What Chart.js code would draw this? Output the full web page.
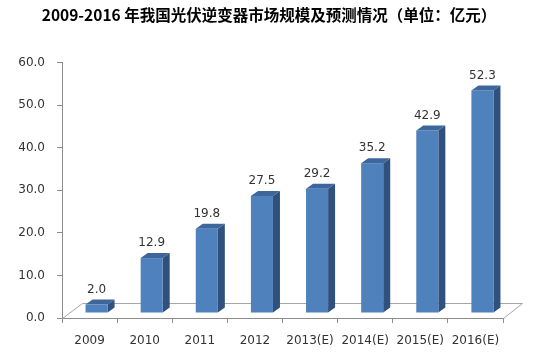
<!DOCTYPE html>
<html>
<head>
<meta charset="utf-8">
<script src="https://cdn.jsdelivr.net/npm/chart.js@4/dist/chart.umd.min.js"></script>
<style>
  html, body { margin: 0; padding: 0; background: #fff; }
</style>
</head>
<body>
<canvas id="chart" width="538" height="360"></canvas>
<script>
const years = ['2009', '2010', '2011', '2012', '2013(E)', '2014(E)', '2015(E)', '2016(E)'];
const marketSize = [2.0, 12.9, 19.8, 27.5, 29.2, 35.2, 42.9, 52.3];
const yTicks = [0, 10, 20, 30, 40, 50, 60];

const FRONT = '#4f81bd', SIDE = '#30517d', TOP = '#3d669a';
const labelFont = '12px "DejaVu Sans"';

// fake 3D: floor + boxes drawn from the bar elements' positions
const bar3d = {
  id: 'bar3d',
  beforeDatasetsDraw(chart) {
    const { ctx, chartArea: a } = chart;
    ctx.save();
    ctx.strokeStyle = '#a6a6a6';
    ctx.lineWidth = 1;
    ctx.beginPath();
    ctx.moveTo(a.left + 0.5, a.bottom + 0.5);
    ctx.lineTo(a.left + 20.5, a.bottom - 14.5);
    ctx.lineTo(a.right + 19.5, a.bottom - 14.5);
    ctx.lineTo(a.right + 0.5, a.bottom + 0.5);
    ctx.stroke();
    ctx.restore();
  },
  afterDatasetsDraw(chart) {
    const ctx = chart.ctx;
    const meta = chart.getDatasetMeta(0);
    const ox = 7, oy = -5, dx = 7, dy = -5;
    ctx.save();
    meta.data.forEach((bar, i) => {
      const { x, y, base, width } = bar.getProps(['x', 'y', 'base', 'width'], true);
      const l = x - width / 2 + ox, r = x + width / 2 + ox;
      const t = y + oy, b = base + oy;

      ctx.fillStyle = SIDE;
      ctx.beginPath();
      ctx.moveTo(r, b); ctx.lineTo(r + dx, b + dy); ctx.lineTo(r + dx, t + dy); ctx.lineTo(r, t);
      ctx.closePath(); ctx.fill();

      ctx.fillStyle = TOP;
      ctx.beginPath();
      ctx.moveTo(l, t); ctx.lineTo(l + dx, t + dy); ctx.lineTo(r + dx, t + dy); ctx.lineTo(r, t);
      ctx.closePath(); ctx.fill();

      ctx.fillStyle = FRONT;
      ctx.fillRect(l, t, r - l, b - t);

      ctx.fillStyle = '#333';
      ctx.font = labelFont;
      ctx.textAlign = 'center';
      ctx.textBaseline = 'middle';
      ctx.fillText(marketSize[i].toFixed(1), (l + r) / 2, t + dy - 10);
    });
    ctx.restore();
  }
};

new Chart(document.getElementById('chart'), {
  type: 'bar',
  data: {
    labels: years,
    datasets: [{
      data: marketSize,
      backgroundColor: 'rgba(0,0,0,0)',
      barPercentage: 0.4,
      categoryPercentage: 1
    }]
  },
  options: {
    responsive: false,
    animation: false,
    layout: { padding: { left: 17, right: 17, top: 0, bottom: 0 } },
    plugins: {
      legend: { display: false },
      tooltip: { enabled: false },
      title: {
        display: true,
        text: '2009-2016 年我国光伏逆变器市场规模及预测情况（单位：亿元）',
        color: '#000',
        font: { family: '"Noto Sans CJK SC"', size: 15.5, weight: 'bold', lineHeight: 1.2 },
        padding: { top: 6, bottom: 38 }
      }
    },
    scales: {
      x: {
        afterFit(s) { s.height = 42; },
        grid: { drawOnChartArea: false, tickLength: 5, color: '#8c8c8c' },
        border: { color: '#8c8c8c' },
        ticks: { color: '#333', font: { family: '"DejaVu Sans"', size: 12 }, padding: 11, maxRotation: 0 }
      },
      y: {
        min: 0, max: 60,
        afterFit(s) { s.width = 45; },
        afterBuildTicks(s) { s.ticks = yTicks.map(v => ({ value: v })); },
        grid: { drawOnChartArea: false, tickLength: 5, color: '#8c8c8c' },
        border: { color: '#8c8c8c' },
        ticks: {
          color: '#333',
          font: { family: '"DejaVu Sans"', size: 12 },
          padding: 12,
          callback: v => Number(v).toFixed(1)
        }
      },
      // empty right-hand spacer so the floor's depth fits
      spacer: {
        type: 'linear',
        position: 'right',
        afterFit(s) { s.width = 18; },
        grid: { display: false },
        border: { display: false },
        ticks: { display: false }
      }
    }
  },
  plugins: [bar3d]
});
</script>
</body>
</html>
